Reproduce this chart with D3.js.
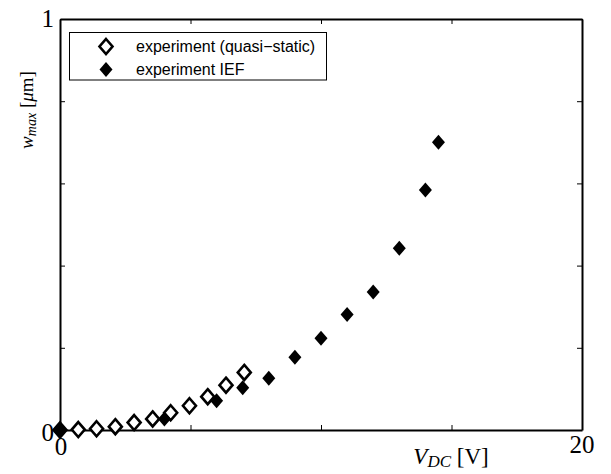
<!DOCTYPE html>
<html>
<head>
<meta charset="utf-8">
<script src="https://cdn.jsdelivr.net/npm/d3@7"></script>
<style>
  body { margin: 0; background: #fff; }
</style>
</head>
<body>
<svg class="mainSvg" width="611" height="474"></svg>
<script>
// quasi-static measurements (open diamonds)
var qsVolt = [0, 0.7, 1.4, 2.12, 2.84, 3.55, 4.24, 4.96, 5.66, 6.36, 7.06];
var qsDefl = [0, 0.001, 0.003, 0.008, 0.018, 0.027, 0.042, 0.059, 0.081, 0.109, 0.14];
// IEF measurements (filled diamonds)
var iefVolt = [0, 4.0, 6.0, 7.0, 8.0, 9.0, 10.0, 11.0, 12.0, 13.0, 14.0, 14.5];
var iefDefl = [0, 0.027, 0.071, 0.103, 0.126, 0.177, 0.223, 0.281, 0.336, 0.442, 0.584, 0.70];
var xTicks = [0, 5, 10, 15, 20];
var yTicks = [0, 0.2, 0.4, 0.6, 0.8, 1];
var legendNames = ["experiment (quasi\u2212static)", "experiment IEF"];

var svg = d3.select(".mainSvg");
// note: can't call it "top", that's window.top
var pLeft = 60, pRight = 582, pTop = 19, pBottom = 430;

var x = d3.scaleLinear().domain([0, 20]).range([pLeft, pRight]);
var y = d3.scaleLinear().domain([0, 1]).range([pBottom, pTop]);

// box + inward ticks on all four sides
var tl = 5;
svg.append("g").attr("transform", "translate(0," + pBottom + ")")
  .call(d3.axisBottom(x).tickValues(xTicks).tickSizeInner(-tl).tickSizeOuter(0).tickFormat(""));
svg.append("g").attr("transform", "translate(0," + pTop + ")")
  .call(d3.axisTop(x).tickValues(xTicks).tickSizeInner(-tl).tickSizeOuter(0).tickFormat(""));
svg.append("g").attr("transform", "translate(" + pLeft + ",0)")
  .call(d3.axisLeft(y).tickValues(yTicks).tickSizeInner(-tl).tickSizeOuter(0).tickFormat(""));
svg.append("g").attr("transform", "translate(" + pRight + ",0)")
  .call(d3.axisRight(y).tickValues(yTicks).tickSizeInner(-tl).tickSizeOuter(0).tickFormat(""));
svg.selectAll(".domain").attr("stroke", "#000").attr("stroke-width", 2);
svg.selectAll(".tick line").attr("stroke", "#000").attr("stroke-width", 1);

// tick labels: only the ends are labelled
var serif = "'Liberation Serif', 'Times New Roman', serif";
var fs = 25;
svg.append("text").attr("x", x(0) + 1).attr("y", 455).attr("text-anchor", "middle")
  .attr("font-family", serif).attr("font-size", fs).text(xTicks[0]);
svg.append("text").attr("x", x(20)).attr("y", 453).attr("text-anchor", "middle")
  .attr("font-family", serif).attr("font-size", fs).text(xTicks[4]);
svg.append("text").attr("x", 54).attr("y", y(0) + 11).attr("text-anchor", "end")
  .attr("font-family", serif).attr("font-size", fs).text(yTicks[0]);
svg.append("text").attr("x", 54).attr("y", y(1) + 8).attr("text-anchor", "end")
  .attr("font-family", serif).attr("font-size", fs).text(yTicks[5]);

// axis titles
var xl = svg.append("text").attr("x", 451).attr("y", 464).attr("text-anchor", "middle")
  .attr("font-family", serif).attr("font-size", 23);
xl.append("tspan").attr("font-style", "italic").text("V");
xl.append("tspan").attr("font-style", "italic").attr("font-size", 17).attr("dy", 3).text("DC");
xl.append("tspan").attr("dy", -3).text(" [V]");

var yl = svg.append("text").attr("transform", "translate(33,110) rotate(-90)")
  .attr("text-anchor", "middle").attr("font-family", serif).attr("font-size", 19);
yl.append("tspan").attr("font-style", "italic").text("w");
yl.append("tspan").attr("font-style", "italic").attr("font-size", 14).attr("dy", 3).text("max");
yl.append("tspan").attr("dy", -3).text(" [");
yl.append("tspan").attr("font-style", "italic").text("\u03bc");
yl.append("tspan").text("m]");

var diamond = function(cx, cy) {
  var w = 6.5, h = 7.5;
  return "M" + cx + "," + (cy - h) + "L" + (cx + w) + "," + cy + "L" + cx + "," + (cy + h) + "L" + (cx - w) + "," + cy + "Z";
};

var qs = qsVolt.map(function(v, i) { return {v: v, w: qsDefl[i]}; });
var ief = iefVolt.map(function(v, i) { return {v: v, w: iefDefl[i]}; });

svg.append("g").selectAll("path").data(qs).enter().append("path")
  .attr("d", function(d) { return diamond(x(d.v), y(d.w)); })
  .attr("fill", "#fff").attr("stroke", "#000").attr("stroke-width", 2.6);
svg.append("g").selectAll("path").data(ief).enter().append("path")
  .attr("d", function(d) { return diamond(x(d.v), y(d.w)); })
  .attr("fill", "#000");

// legend
var lg = svg.append("g");
lg.append("rect").attr("x", 69.5).attr("y", 32.5).attr("width", 257).attr("height", 47.5)
  .attr("fill", "#fff").attr("stroke", "#000").attr("stroke-width", 1);
lg.append("path").attr("d", diamond(106, 46.5)).attr("fill", "#fff").attr("stroke", "#000").attr("stroke-width", 2.6);
lg.append("path").attr("d", diamond(106, 69.5)).attr("fill", "#000");
lg.selectAll("text").data(legendNames).enter().append("text")
  .attr("x", 136).attr("y", function(d, i) { return 51.5 + i * 23.5; })
  .attr("font-family", "'Liberation Sans', Arial, sans-serif").attr("font-size", 16)
  .text(function(d) { return d; });
</script>
</body>
</html>
